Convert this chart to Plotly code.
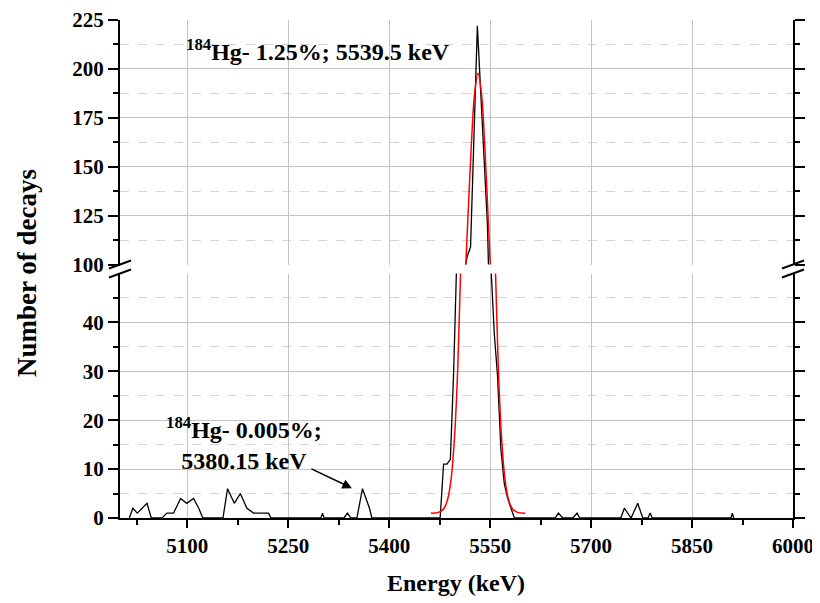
import plotly.graph_objects as go

# ---------------- data ----------------
# measured spectrum (black): energy in keV, number of decays
energy = [5013.8, 5019.0, 5025.7, 5040.1, 5046.5,
          5062.4, 5069.8, 5079.6, 5090.0, 5099.2, 5109.3, 5117.0, 5123.0,
          5153.0, 5159.8, 5169.8, 5178.7, 5188.6, 5198.4, 5220.7, 5224.3,
          5298.5, 5300.9, 5303.4,
          5332.7, 5338.0, 5343.1,
          5352.0, 5360.3, 5370.7, 5374.3,
          5475.7, 5480.8, 5485.8, 5490.9, 5495.8, 5500.8, 5505.9, 5510.9,
          5515.8, 5520.9, 5525.9, 5531.0,
          5536.0, 5541.0, 5546.0, 5551.0, 5556.0, 5561.0, 5566.0, 5571.0,
          5576.0, 5581.0, 5586.0,
          5646.6, 5651.4, 5658.0,
          5672.8, 5679.2, 5683.2,
          5744.1, 5749.4, 5759.4, 5769.3, 5776.8, 5784.6, 5787.6, 5791.0,
          5907.9, 5909.8, 5911.9]
counts = [0, 2, 1, 3, 0,
          0, 1, 1, 4, 3, 4, 2, 0,
          0, 6, 3, 5, 2, 1, 1, 0,
          0, 1, 0,
          0, 1, 0,
          0, 6, 2, 0,
          0, 11, 11, 12, 30, 55, 75, 95,
          104, 109, 165, 222,
          188, 154, 120, 52, 38, 29, 14, 7,
          4, 2, 0,
          0, 1, 0,
          0, 1, 0,
          0, 2, 0, 3, 0, 0, 1, 0,
          0, 1, 0]

# fitted peak (red)
fit_energy = [5462, 5467, 5472, 5477, 5482, 5487, 5492, 5497, 5502, 5507,
              5512, 5517, 5522, 5527, 5532, 5537, 5542, 5547, 5552, 5557,
              5562, 5567, 5572, 5577, 5582, 5587, 5592, 5597, 5602]
fit_counts = [1.0, 1.0, 1.1, 1.4, 2.1, 3.9, 8.0, 16.4, 31.2, 54.6,
              86.6, 124.2, 160.8, 187.8, 197.8, 187.8, 160.8, 124.2, 86.6, 54.6,
              31.2, 16.4, 8.0, 3.9, 2.1, 1.4, 1.1, 1.0, 1.0]

x_ticks = [5100, 5250, 5400, 5550, 5700, 5850, 6000]
x_minor = [5025, 5175, 5325, 5475, 5625, 5775, 5925]
y_low_ticks = [0, 10, 20, 30, 40]
y_low_minor = [5, 15, 25, 35, 45]
y_up_ticks = [100, 125, 150, 175, 200, 225]
y_up_minor = [112.5, 137.5, 162.5, 187.5, 212.5]

assert len(energy) == len(counts)
assert len(fit_energy) == len(fit_counts)

# ---------------- layout geometry ----------------
# the page body has an 8 px margin, so the figure is drawn 8 px in from the corner
OFF = 8
FONT = "Liberation Serif"
W, H = 820 - OFF, 603 - OFF
L, R, T, B = 120 - OFF, 27, 20 - OFF, 85
PW, PH = W - L - R, H - T - B


def px(xs):
    """screen x pixel -> paper x"""
    return (xs - OFF - L) / PW


def py(ys):
    """screen y pixel -> paper y"""
    return (H - B - (ys - OFF)) / PH


low_dom = [0, py(273.5)]
up_dom = [py(264.5), 1]

GRID = "#c4c4c4"
MINGRID = "#d4d4d4"

fig = go.Figure()
for ya in ["y", "y2"]:
    fig.add_trace(go.Scatter(x=energy, y=counts, mode="lines", yaxis=ya, xaxis="x",
                             line=dict(color="black", width=1.3), showlegend=False,
                             hoverinfo="skip"))
    fig.add_trace(go.Scatter(x=fit_energy, y=fit_counts, mode="lines", yaxis=ya, xaxis="x",
                             line=dict(color="#ff0000", width=1.5, shape="spline"),
                             showlegend=False, hoverinfo="skip"))

tickfont = dict(family=FONT, size=21, color="black", weight="bold")

common_x = dict(range=[5000, 6000], tickmode="array", tickvals=x_ticks,
                tickwidth=2, tickcolor="black", zeroline=False)

fig.update_layout(
    width=W, height=H,
    margin=dict(l=L, r=R, t=T, b=B, autoexpand=False),
    paper_bgcolor="white", plot_bgcolor="white",
    xaxis=dict(**common_x, domain=[0, 1], anchor="y", ticks="outside", ticklen=8,
               ticktext=[str(v) for v in x_ticks], tickfont=tickfont,
               showline=True, linewidth=2, linecolor="black",
               showgrid=True, gridcolor=GRID, gridwidth=1,
               minor=dict(tickmode="array", tickvals=x_minor, ticks="outside", ticklen=5,
                          tickwidth=2, tickcolor="black", showgrid=False)),
    xaxis2=dict(**common_x, overlaying="x", anchor="y", ticks="inside", ticklen=8,
                showticklabels=False, showgrid=False, showline=False,
                minor=dict(tickmode="array", tickvals=x_minor, ticks="inside", ticklen=5,
                           tickwidth=2, tickcolor="black", showgrid=False)),
    xaxis3=dict(**common_x, overlaying="x", anchor="y2", side="top", ticks="outside",
                ticklen=10, showticklabels=False, showgrid=False,
                showline=True, linewidth=2, linecolor="black",
                minor=dict(tickmode="array", tickvals=x_minor, ticks="outside", ticklen=6,
                           tickwidth=2, tickcolor="black", showgrid=False)),
    xaxis4=dict(**common_x, overlaying="x", anchor="y2", side="top", ticks="inside",
                ticklen=10, showticklabels=False, showgrid=False, showline=False,
                minor=dict(tickmode="array", tickvals=x_minor, ticks="inside", ticklen=6,
                           tickwidth=2, tickcolor="black", showgrid=False)),
    yaxis=dict(domain=low_dom, anchor="x", range=[0, 50], tickmode="array",
               tickvals=y_low_ticks, tickfont=tickfont, ticks="outside", ticklen=10,
               tickwidth=2, tickcolor="black", showline=True, linewidth=2,
               linecolor="black", mirror="ticks", zeroline=False,
               showgrid=True, gridcolor=GRID, gridwidth=1,
               minor=dict(tickmode="array", tickvals=y_low_minor, ticks="outside",
                          ticklen=5, tickwidth=2, tickcolor="black", showgrid=True,
                          gridcolor=MINGRID, griddash="dash", gridwidth=1)),
    yaxis3=dict(overlaying="y", anchor="x", range=[0, 50], tickmode="array",
                tickvals=y_low_ticks, ticks="inside", ticklen=10, tickwidth=2,
                tickcolor="black", showline=True, linewidth=2, linecolor="black",
                mirror="ticks", showticklabels=False, showgrid=False, zeroline=False,
                minor=dict(tickmode="array", tickvals=y_low_minor, ticks="inside",
                           ticklen=5, tickwidth=2, tickcolor="black", showgrid=False)),
    yaxis2=dict(domain=up_dom, anchor="x", range=[100, 225], tickmode="array",
                tickvals=y_up_ticks, tickfont=tickfont, ticks="outside", ticklen=10,
                tickwidth=2, tickcolor="black", showline=True, linewidth=2,
                linecolor="black", mirror="ticks", zeroline=False,
                showgrid=True, gridcolor=GRID, gridwidth=1,
                minor=dict(tickmode="array", tickvals=y_up_minor, ticks="outside",
                           ticklen=5, tickwidth=2, tickcolor="black", showgrid=True,
                           gridcolor=MINGRID, griddash="dash", gridwidth=1)),
    yaxis4=dict(overlaying="y2", anchor="x", range=[100, 225], tickmode="array",
                tickvals=y_up_ticks, ticks="inside", ticklen=10, tickwidth=2,
                tickcolor="black", showline=True, linewidth=2, linecolor="black",
                mirror="ticks", showticklabels=False, showgrid=False, zeroline=False,
                minor=dict(tickmode="array", tickvals=y_up_minor, ticks="inside",
                           ticklen=5, tickwidth=2, tickcolor="black", showgrid=False)),
)

# axis-break marks (screen pixel positions)
shapes = []
for xc in (120, 793):
    for yc in (264.5, 273.5):
        shapes.append(dict(type="line", xref="paper", yref="paper",
                           x0=px(xc - 11), y0=py(yc + 4), x1=px(xc + 11), y1=py(yc - 4),
                           line=dict(color="black", width=2)))
fig.update_layout(shapes=shapes)

afont = dict(family=FONT, size=24, color="black", weight="bold")
fig.add_annotation(text="<sup>184</sup>Hg- 1.25%; 5539.5 keV", xref="paper", yref="paper",
                   x=px(184), y=py(50), xanchor="left", yanchor="middle",
                   showarrow=False, font=afont)
fig.add_annotation(text="<sup>184</sup>Hg- 0.005%;<br>5380.15 keV", xref="paper", yref="paper",
                   x=px(244), y=py(443), xanchor="center", yanchor="middle", align="center",
                   showarrow=False, font=afont)
fig.add_annotation(x=5344.6, y=6.1, xref="x", yref="y", text="", showarrow=True,
                   ax=-42, ay=-20, arrowhead=2, arrowsize=1.2, arrowwidth=1.6,
                   arrowcolor="black")
fig.add_annotation(text="Energy (keV)", xref="paper", yref="paper", x=px(456), y=py(583),
                   xanchor="center", yanchor="middle", showarrow=False,
                   font=dict(family=FONT, size=24, color="black", weight="bold"))
fig.add_annotation(text="Number of decays", xref="paper", yref="paper", x=px(27), y=py(273),
                   xanchor="center", yanchor="middle", textangle=-90, showarrow=False,
                   font=dict(family=FONT, size=27, color="black", weight="bold"))

fig.write_html("out.html")
